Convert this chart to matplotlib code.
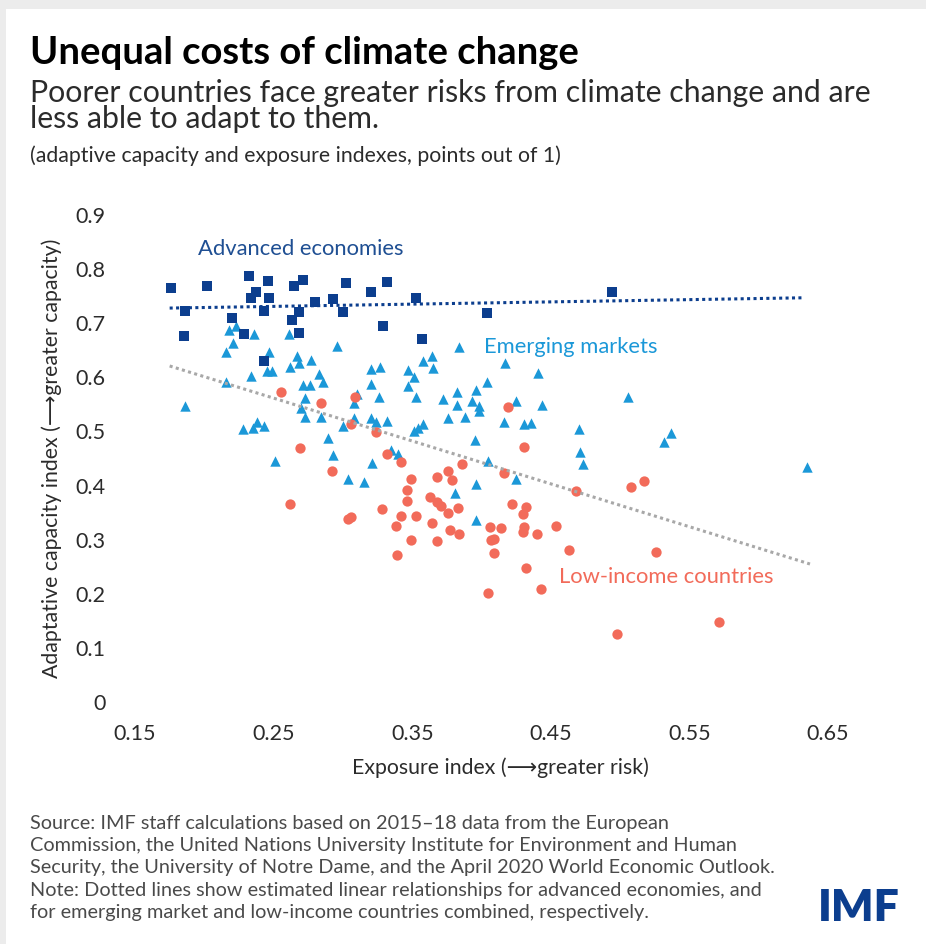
import matplotlib
matplotlib.use("Agg")
import matplotlib.pyplot as plt
from matplotlib.patches import Rectangle

plt.rcParams['font.family'] = ['Lato', 'DejaVu Sans']

# ---------------- data ----------------
adv_x = [0.176, 0.186, 0.185, 0.202, 0.220, 0.229, 0.232, 0.237, 0.234, 0.247,
         0.246, 0.243, 0.243, 0.265, 0.271, 0.280, 0.268, 0.263, 0.268, 0.293,
         0.302, 0.300, 0.320, 0.332, 0.329, 0.353, 0.357, 0.404, 0.494]
adv_y = [0.765, 0.722, 0.676, 0.768, 0.709, 0.680, 0.788, 0.758, 0.746, 0.746,
         0.778, 0.723, 0.631, 0.769, 0.779, 0.740, 0.721, 0.706, 0.682, 0.744,
         0.774, 0.720, 0.758, 0.777, 0.694, 0.746, 0.671, 0.718, 0.758]

em_x = [0.186, 0.216, 0.216, 0.218, 0.223, 0.221, 0.236, 0.261, 0.247, 0.267,
        0.277, 0.268, 0.262, 0.245, 0.249, 0.234, 0.283, 0.286, 0.228, 0.235,
        0.238, 0.243, 0.251, 0.271, 0.276, 0.273, 0.270, 0.273, 0.284, 0.289,
        0.296, 0.320, 0.327, 0.320, 0.308, 0.310, 0.326, 0.300, 0.308, 0.320,
        0.324, 0.332, 0.293, 0.321, 0.335, 0.340, 0.304, 0.315, 0.347, 0.351,
        0.365, 0.358, 0.364, 0.384, 0.404, 0.347, 0.353, 0.372, 0.382, 0.396,
        0.393, 0.398, 0.398, 0.382, 0.376, 0.388, 0.416, 0.425, 0.351, 0.354,
        0.358, 0.395, 0.405, 0.396, 0.381, 0.396, 0.425, 0.417, 0.441, 0.506,
        0.444, 0.431, 0.436, 0.470, 0.537, 0.532, 0.471, 0.473, 0.635]
em_y = [0.547, 0.592, 0.647, 0.687, 0.694, 0.664, 0.680, 0.681, 0.646, 0.639,
        0.632, 0.626, 0.619, 0.611, 0.611, 0.602, 0.606, 0.592, 0.504, 0.506,
        0.518, 0.510, 0.446, 0.585, 0.585, 0.562, 0.543, 0.526, 0.526, 0.488,
        0.658, 0.616, 0.619, 0.587, 0.553, 0.569, 0.564, 0.510, 0.524, 0.525,
        0.518, 0.519, 0.457, 0.441, 0.465, 0.459, 0.413, 0.407, 0.613, 0.600,
        0.617, 0.631, 0.640, 0.656, 0.591, 0.584, 0.564, 0.560, 0.572, 0.577,
        0.556, 0.547, 0.538, 0.548, 0.524, 0.527, 0.518, 0.556, 0.500, 0.506,
        0.514, 0.484, 0.445, 0.403, 0.386, 0.336, 0.413, 0.627, 0.608, 0.564,
        0.549, 0.513, 0.515, 0.505, 0.497, 0.480, 0.462, 0.439, 0.435]

li_x = [0.255, 0.284, 0.309, 0.306, 0.324, 0.269, 0.262, 0.292, 0.332, 0.342,
        0.419, 0.431, 0.386, 0.376, 0.379, 0.368, 0.349, 0.416, 0.346, 0.346,
        0.363, 0.368, 0.371, 0.376, 0.383, 0.328, 0.342, 0.353, 0.306, 0.304,
        0.338, 0.364, 0.377, 0.384, 0.349, 0.368, 0.339, 0.406, 0.414, 0.409,
        0.407, 0.409, 0.422, 0.432, 0.430, 0.431, 0.430, 0.440, 0.432, 0.443,
        0.405, 0.468, 0.508, 0.517, 0.454, 0.463, 0.526, 0.571, 0.498]
li_y = [0.572, 0.552, 0.564, 0.513, 0.499, 0.469, 0.365, 0.427, 0.458, 0.444,
        0.545, 0.472, 0.440, 0.426, 0.410, 0.416, 0.413, 0.423, 0.392, 0.371,
        0.379, 0.370, 0.362, 0.350, 0.359, 0.357, 0.344, 0.343, 0.342, 0.338,
        0.326, 0.331, 0.318, 0.310, 0.300, 0.298, 0.272, 0.324, 0.322, 0.301,
        0.299, 0.275, 0.366, 0.360, 0.348, 0.324, 0.315, 0.310, 0.247, 0.208,
        0.201, 0.390, 0.398, 0.408, 0.326, 0.281, 0.278, 0.147, 0.126]

# estimated linear relationships (dotted lines)
adv_fit_x = [0.175, 0.632]
adv_fit_y = [0.728, 0.747]
emli_fit_x = [0.175, 0.637]
emli_fit_y = [0.621, 0.255]

x_ticks = [0.15, 0.25, 0.35, 0.45, 0.55, 0.65]
x_tick_labels = ["0.15", "0.25", "0.35", "0.45", "0.55", "0.65"]
y_ticks = [0, 0.1, 0.2, 0.3, 0.4, 0.5, 0.6, 0.7, 0.8, 0.9]
y_tick_labels = ["0", "0.1", "0.2", "0.3", "0.4", "0.5", "0.6", "0.7", "0.8", "0.9"]

# ---------------- style ----------------
NAVY = "#0c3e8e"
NAVY_TXT = "#1f4f93"
BLUE = "#1b98d8"
SALMON = "#f26b5a"
GRAY = "#a8a8a8"
TXT = "#2b2b2b"

W, H = 926, 944
fig = plt.figure(figsize=(W / 100, H / 100), dpi=100, facecolor="#ececec")
fig.patches.append(Rectangle((6 / W, 0), 1, 1 - 9 / H, transform=fig.transFigure,
                             facecolor="white", edgecolor="none", zorder=-10))

ax = fig.add_axes([135 / W, 1 - 702 / H, (828 - 135) / W, (702 - 215) / H])
ax.set_facecolor("none")
ax.set_zorder(2)

ax.scatter(em_x, em_y, marker="^", s=56, color=BLUE, linewidths=0, zorder=3)
ax.scatter(li_x, li_y, marker="o", s=55, color=SALMON, linewidths=0, zorder=3)
ax.scatter(adv_x, adv_y, marker="s", s=50, color=NAVY, linewidths=0, zorder=4)

ax.plot(adv_fit_x, adv_fit_y, color=NAVY, lw=2.2, linestyle=(0, (1, 1.1)), zorder=5)
ax.plot(emli_fit_x, emli_fit_y, color=GRAY, lw=2.2, linestyle=(0, (1, 1.1)), zorder=5)

ax.set_xlim(0.15, 0.65)
ax.set_ylim(0, 0.9)
ax.set_xticks(x_ticks)
ax.set_xticklabels(x_tick_labels)
ax.set_yticks(y_ticks)
ax.set_yticklabels(y_tick_labels)
ax.tick_params(axis="both", length=0, labelsize=15.5, colors=TXT)
ax.tick_params(axis="x", pad=16)
ax.tick_params(axis="y", pad=21)
for s in ax.spines.values():
    s.set_visible(False)

ax.set_xlabel("Exposure index (⟶greater risk)", fontsize=15.3, color=TXT)
ax.xaxis.set_label_coords(0.527, -0.113)
ax.set_ylabel("Adaptative capacity index (⟶greater capacity)", fontsize=15.3, color=TXT,
              labelpad=10)

ax.text(0.1955, 0.837, "Advanced economies", color=NAVY_TXT, fontsize=15.8,
        ha="left", va="center")
ax.text(0.4018, 0.656, "Emerging markets", color=BLUE, fontsize=15.8,
        ha="left", va="center")
ax.text(0.456, 0.231, "Low-income countries", color=SALMON, fontsize=15.8,
        ha="left", va="center")

# ---------------- titles ----------------
fig.text(30 / W, 1 - 64 / H, "Unequal costs of climate change", fontsize=27.5,
         fontweight="bold", color="black", ha="left", va="baseline")
fig.text(30 / W, 1 - 102 / H,
         "Poorer countries face greater risks from climate change and are",
         fontsize=21.8, color=TXT, ha="left", va="baseline")
fig.text(30 / W, 1 - 128 / H, "less able to adapt to them.",
         fontsize=21.8, color=TXT, ha="left", va="baseline")
fig.text(30 / W, 1 - 162 / H,
         "(adaptive capacity and exposure indexes, points out of 1)",
         fontsize=15.3, color=TXT, ha="left", va="baseline")

notes = [
    "Source: IMF staff calculations based on 2015–18 data from the European",
    "Commission, the United Nations University Institute for Environment and Human",
    "Security, the University of Notre Dame, and the April 2020 World Economic Outlook.",
    "Note: Dotted lines show estimated linear relationships for advanced economies, and",
    "for emerging market and low-income countries combined, respectively.",
]
for i, line in enumerate(notes):
    fig.text(30 / W, 1 - (829 + 22.2 * i) / H, line, fontsize=14.3, color="#4a4a4a",
             ha="left", va="baseline")

fig.text(859 / W, 1 - 908 / H, "IMF", fontsize=32, fontweight="heavy", color=NAVY,
         ha="center", va="center")

fig.savefig("out.png", dpi=100, facecolor=fig.get_facecolor())
